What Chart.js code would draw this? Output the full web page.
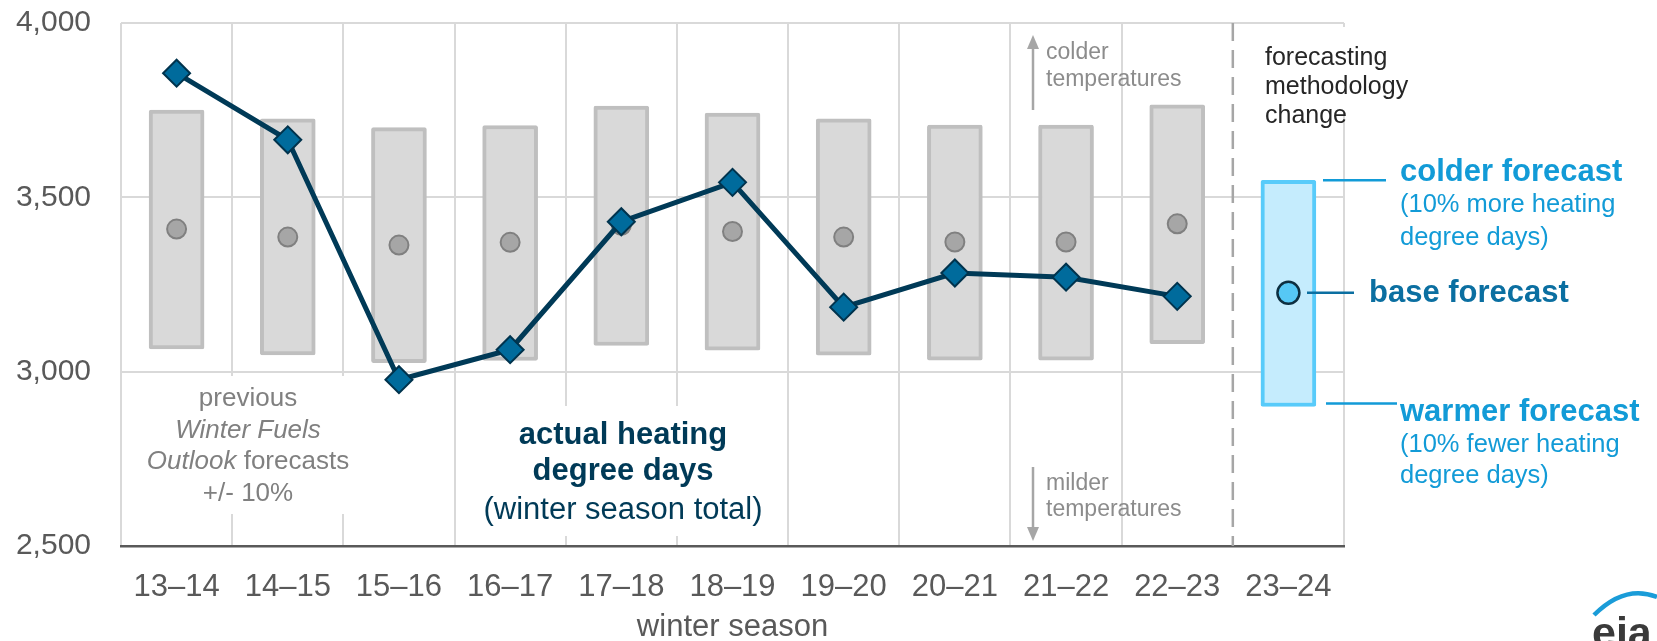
<!DOCTYPE html>
<html>
<head>
<meta charset="utf-8">
<script src="https://cdn.jsdelivr.net/npm/chart.js"></script>
<style>
  html, body { margin: 0; padding: 0; background: #fff; }
  #wrap { width: 1657px; height: 641px; }
</style>
</head>
<body>
<div id="wrap"><canvas id="hdd" width="1657" height="641"></canvas></div>
<script>
// winter seasons on the x axis
const seasons = ['13–14', '14–15', '15–16', '16–17', '17–18', '18–19', '19–20', '20–21', '21–22', '22–23', '23–24'];

// actual heating degree days (winter season total)
const actualHDD = [3856, 3665, 2977, 3063, 3430, 3543, 3185, 3283, 3271, 3216, null];

// previous Winter Fuels Outlook forecasts (mid point)
const previousForecast = [3409, 3386, 3363, 3371, 3420, 3402, 3386, 3372, 3372, 3424, null];

// forecast range, +/- 10% (low, high)
const rangeLow = [3065, 3048, 3026, 3032, 3075, 3062, 3047, 3033, 3033, 3080, 2900];
const rangeHigh = [3750, 3725, 3700, 3706, 3762, 3742, 3725, 3707, 3707, 3765, 3549];

// current base forecast
const baseForecast = [null, null, null, null, null, null, null, null, null, null, 3226];

const yTicks = [2500, 3000, 3500, 4000];

const FONT = '"Liberation Sans", Arial, sans-serif';
const GRID = '#d9d9d9';

const last = seasons.length - 1;

function textLines(ctx, rows, x, y0, dy, font, color, align) {
    ctx.font = font;
    ctx.fillStyle = color;
    ctx.textAlign = align || 'left';
    ctx.textBaseline = 'middle';
    rows.forEach((r, i) => ctx.fillText(r, x, y0 + i * dy));
}

function arrow(ctx, x, yFrom, yTo) {
    const dir = yTo < yFrom ? -1 : 1;
    ctx.save();
    ctx.strokeStyle = '#a6a6a6';
    ctx.fillStyle = '#a6a6a6';
    ctx.lineWidth = 2.5;
    ctx.beginPath();
    ctx.moveTo(x, yFrom);
    ctx.lineTo(x, yTo - dir * 12);
    ctx.stroke();
    ctx.beginPath();
    ctx.moveTo(x, yTo);
    ctx.lineTo(x - 6, yTo - dir * 14);
    ctx.lineTo(x + 6, yTo - dir * 14);
    ctx.closePath();
    ctx.fill();
    ctx.restore();
}

const notes = {
    id: 'notes',
    beforeDatasetsDraw(chart) {
        const { ctx, chartArea: a, scales: { x } } = chart;
        ctx.save();
        // white boxes behind the labels
        ctx.fillStyle = '#fff';
        ctx.fillRect(140, 376, 216, 138);
        ctx.fillRect(478, 406, 290, 130);
        ctx.fillRect(1252, 27, 100, 86);

        // methodology change separator
        const xs = (x.getPixelForValue(last - 1) + x.getPixelForValue(last)) / 2;
        ctx.strokeStyle = '#a6a6a6';
        ctx.lineWidth = 2.5;
        ctx.setLineDash([18, 9]);
        ctx.beginPath();
        ctx.moveTo(xs, a.top);
        ctx.lineTo(xs, a.bottom);
        ctx.stroke();
        ctx.setLineDash([]);
        ctx.restore();
    },
    afterDatasetsDraw(chart) {
        const { ctx, scales: { x, y } } = chart;
        ctx.save();

        // previous forecasts label
        const grey = '#808080';
        textLines(ctx, ['previous'], 248, 399, 0, '26px ' + FONT, grey, 'center');
        textLines(ctx, ['Winter Fuels'], 248, 431, 0, 'italic 26px ' + FONT, grey, 'center');
        ctx.font = 'italic 26px ' + FONT;
        const w1 = ctx.measureText('Outlook').width;
        ctx.font = '26px ' + FONT;
        const w2 = ctx.measureText(' forecasts').width;
        const x0 = 248 - (w1 + w2) / 2;
        textLines(ctx, ['Outlook'], x0, 462, 0, 'italic 26px ' + FONT, grey, 'left');
        textLines(ctx, [' forecasts'], x0 + w1, 462, 0, '26px ' + FONT, grey, 'left');
        textLines(ctx, ['+/- 10%'], 248, 494, 0, '26px ' + FONT, grey, 'center');

        // actual heating degree days label
        const navy = '#003a57';
        textLines(ctx, ['actual heating', 'degree days'], 623, 435, 36, 'bold 31px ' + FONT, navy, 'center');
        textLines(ctx, ['(winter season total)'], 623, 510, 0, '31px ' + FONT, navy, 'center');

        // colder / milder arrows
        const lg = '#8c8c8c';
        arrow(ctx, 1033, 110, 35);
        textLines(ctx, ['colder', 'temperatures'], 1046, 53, 27, '23px ' + FONT, lg, 'left');
        arrow(ctx, 1033, 467, 541);
        textLines(ctx, ['milder', 'temperatures'], 1046, 484, 26, '23px ' + FONT, lg, 'left');

        // methodology change
        textLines(ctx, ['forecasting', 'methodology', 'change'], 1265, 58, 29, '25px ' + FONT, '#262626', 'left');

        // callouts for the current forecast
        const cyan = '#129bd7';
        const blue = '#0b6fa1';
        const yTop = y.getPixelForValue(rangeHigh[last]);
        const yBot = y.getPixelForValue(rangeLow[last]);
        const yMid = y.getPixelForValue(baseForecast[last]);
        ctx.lineWidth = 2.5;
        ctx.strokeStyle = cyan;
        ctx.beginPath();
        ctx.moveTo(1323, yTop);
        ctx.lineTo(1386, yTop);
        ctx.moveTo(1326, yBot - 3);
        ctx.lineTo(1397, yBot - 3);
        ctx.stroke();
        ctx.strokeStyle = blue;
        ctx.beginPath();
        ctx.moveTo(1307, yMid);
        ctx.lineTo(1354, yMid);
        ctx.stroke();

        textLines(ctx, ['colder forecast'], 1400, 172, 0, 'bold 31px ' + FONT, cyan, 'left');
        textLines(ctx, ['(10% more heating', 'degree days)'], 1400, 205, 33, '25.5px ' + FONT, cyan, 'left');
        textLines(ctx, ['base forecast'], 1369, 293, 0, 'bold 31px ' + FONT, blue, 'left');
        textLines(ctx, ['warmer forecast'], 1400, 412, 0, 'bold 31px ' + FONT, cyan, 'left');
        textLines(ctx, ['(10% fewer heating', 'degree days)'], 1400, 445, 31, '25.5px ' + FONT, cyan, 'left');

        // eia mark
        ctx.strokeStyle = '#1a9cd8';
        ctx.lineWidth = 4.5;
        ctx.beginPath();
        ctx.moveTo(1594, 615);
        ctx.quadraticCurveTo(1625, 584, 1657, 597);
        ctx.stroke();
        ctx.font = 'bold 43px ' + FONT;
        ctx.fillStyle = '#3a3a3a';
        ctx.textAlign = 'left';
        ctx.textBaseline = 'alphabetic';
        ctx.fillText('eia', 1592, 647);

        ctx.restore();
    }
};

const barFill = seasons.map((s, i) => i === last ? '#c5ecfd' : '#d9d9d9');
const barEdge = seasons.map((s, i) => i === last ? '#58cbfa' : '#bfbfbf');

new Chart(document.getElementById('hdd'), {
    type: 'bar',
    data: {
        labels: seasons,
        datasets: [
            {
                type: 'line',
                label: 'actual heating degree days',
                data: actualHDD,
                borderColor: '#003a57',
                borderWidth: 5,
                pointStyle: 'rectRot',
                pointRadius: 13.5,
                pointBackgroundColor: '#006b9c',
                pointBorderColor: '#00334d',
                pointBorderWidth: 2,
                spanGaps: false,
                order: 1
            },
            {
                type: 'line',
                label: 'base forecast',
                data: baseForecast,
                showLine: false,
                pointRadius: 11,
                pointBackgroundColor: '#56c8f5',
                pointBorderColor: '#0d2f40',
                pointBorderWidth: 2.5,
                order: 2
            },
            {
                type: 'line',
                label: 'previous forecast',
                data: previousForecast,
                showLine: false,
                pointRadius: 9.5,
                pointBackgroundColor: '#a6a6a6',
                pointBorderColor: '#808080',
                pointBorderWidth: 2,
                order: 3
            },
            {
                label: 'forecast range',
                data: rangeLow.map((lo, i) => [lo, rangeHigh[i]]),
                backgroundColor: barFill,
                borderColor: barEdge,
                borderWidth: 4,
                borderRadius: 2,
                borderSkipped: false,
                barThickness: 55,
                order: 4
            }
        ]
    },
    options: {
        responsive: false,
        animation: false,
        devicePixelRatio: 1,
        layout: { padding: { top: 23, right: 313, left: 0, bottom: 0 } },
        plugins: {
            legend: { display: false },
            tooltip: { enabled: false }
        },
        scales: {
            x: {
                offset: true,
                grid: {
                    offset: true,
                    color: ctx => ctx.index === last ? 'rgba(0,0,0,0)' : GRID,
                    lineWidth: 2,
                    drawTicks: false
                },
                border: { color: '#595959', width: 2.5 },
                ticks: {
                    color: '#595959',
                    font: { family: FONT, size: 31 },
                    padding: 23,
                    maxRotation: 0,
                    autoSkip: false
                },
                title: {
                    display: true,
                    text: 'winter season',
                    color: '#595959',
                    font: { family: FONT, size: 31, lineHeight: 0.9 },
                    padding: { top: 0, bottom: 0 }
                },
                afterFit: s => { s.height = 95; }
            },
            y: {
                min: yTicks[0],
                max: yTicks[yTicks.length - 1],
                afterBuildTicks: s => { s.ticks = yTicks.map(v => ({ value: v })); },
                grid: { color: GRID, lineWidth: 2, drawTicks: false },
                border: { display: false },
                ticks: {
                    color: '#595959',
                    font: { family: FONT, size: 30 },
                    padding: 30
                },
                afterFit: s => {
                    s.width = 121;
                    s.paddingTop = 0;
                    s.paddingBottom = 0;
                }
            }
        }
    },
    plugins: [notes]
});
</script>
</body>
</html>
